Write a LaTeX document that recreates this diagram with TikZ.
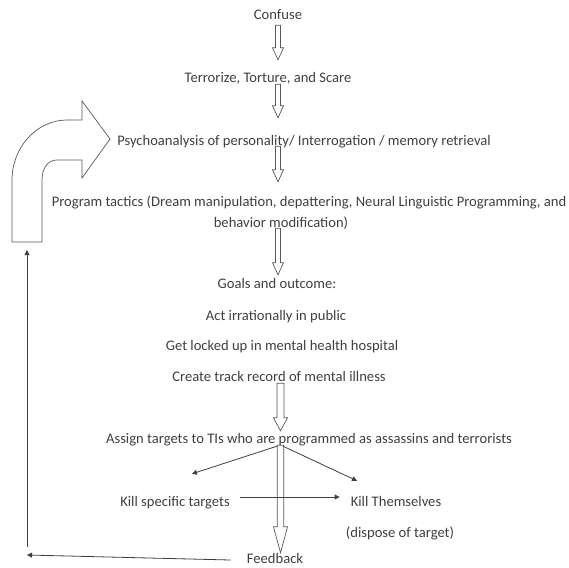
\documentclass[tikz,border=0pt]{standalone}
\usepackage{fontspec}
\setmainfont{Carlito}
\usetikzlibrary{arrows.meta,calc}

% hollow block arrow pointing down: #1 start, #2 tip, #3 shaft half width, #4 head half width, #5 head length
\newcommand{\blockdown}[5]{%
  \draw[hollow] let \p1=#1, \p2=#2 in
    (\x1-#3pt,\y1) -- (\x1-#3pt,\y2+#5pt) -- (\x1-#4pt,\y2+#5pt) -- (\x1,\y2)
    -- (\x1+#4pt,\y2+#5pt) -- (\x1+#3pt,\y2+#5pt) -- (\x1+#3pt,\y1) -- cycle;}

\begin{document}
\begin{tikzpicture}[
        x=1pt, y=-1pt,
        every node/.style={font=\fontsize{14.6pt}{17pt}\selectfont, text=black!75,
            inner sep=0pt, text height=10pt, text depth=3pt, anchor=base},
        hollow/.style={draw=black!65, line width=0.7pt, line join=miter},
        thin/.style={draw=black!75, line width=0.8pt, -{Triangle[length=5pt,width=5pt]}},
    ]
    \fill[white] (0,0) rectangle (569,567);
    \useasboundingbox (0,0) rectangle (569,567);

    % Steps down the middle
    \node (confuse) at (278,20) {Confuse};
    \node (terror) at (268,83) {Terrorize, Torture, and Scare};
    \node (psycho) at (304,145) {Psychoanalysis of personality/ Interrogation / memory retrieval};
    \node (tactics) at (309,206) {Program tactics (Dream manipulation, depattering, Neural Linguistic Programming, and};
    \node (tacticsb) at (281,227) {behavior modification)};

    % Goals and outcome
    \node (goals) at (277,288) {Goals and outcome:};
    \node (act) at (276,320) {Act irrationally in public};
    \node (locked) at (282,350) {Get locked up in mental health hospital};
    \node (record) at (279,381) {Create track record of mental illness};

    % Assignment and results
    \node (assign) at (309,443) {Assign targets to TIs who are programmed as assassins and terrorists};
    \node (killt) at (175,506) {Kill specific targets};
    \node (killself) at (396,506) {Kill Themselves};
    \node (dispose) at (400,537) {(dispose of target)};
    \node (feedback) at (275,563) {Feedback};

    % Hollow arrows
    \blockdown{([yshift=-2pt]confuse.south -| confuse)}{([yshift=13pt]terror.north -| confuse)}{2.5}{5.5}{12}
    \blockdown{([yshift=2pt]terror.south -| confuse)}{([yshift=17pt]psycho.north -| confuse)}{2.5}{5.5}{12}
    \blockdown{([yshift=2pt]psycho.south -| confuse)}{([yshift=14pt]tactics.north -| confuse)}{2.5}{5.5}{12}
    \blockdown{([yshift=2pt]tacticsb.south -| confuse)}{([yshift=3pt]goals.north -| confuse)}{2.5}{5.5}{12}
    \blockdown{([xshift=2.5pt,yshift=1pt]record.south -| confuse)}{([xshift=2.5pt,yshift=2pt]assign.north -| confuse)}{3.5}{7}{13}
    \blockdown{([xshift=2.5pt,yshift=1pt]assign.south -| confuse)}{([xshift=2.5pt]feedback.north -| confuse)}{3.3}{7}{26}

    % Split to the two outcomes
    \draw[thin] ([xshift=-1pt]assign.south -| confuse) -- ([xshift=17pt,yshift=22pt]killt.north);
    \draw[thin] ([xshift=5pt]assign.south -| confuse) -- ([xshift=-39pt,yshift=15pt]killself.north);
    \draw[thin] ([xshift=10pt,yshift=5.5pt]killt.east) -- ([xshift=-11pt,yshift=5.5pt]killself.west);

    % Feedback loop
    \coordinate (loop) at (27,555);
    \coordinate (bend) at (27,242);
    \draw[thin] ([xshift=-16pt,yshift=-0.5pt]feedback.west) -- (loop);
    \draw[thin] ([yshift=8pt]loop) -- ([yshift=-8pt]bend);

    % Curved return arrow
    \draw[hollow] (12,242) -- (12,180) .. controls (12,147) and (37,120) .. (67,120)
        -- (82,120) -- (82,101) -- (110,139) -- (82,178) -- (82,160) -- (57,160)
        .. controls (48,160) and (42,168) .. (42,180) -- (42,242) -- cycle;
\end{tikzpicture}
\end{document}
